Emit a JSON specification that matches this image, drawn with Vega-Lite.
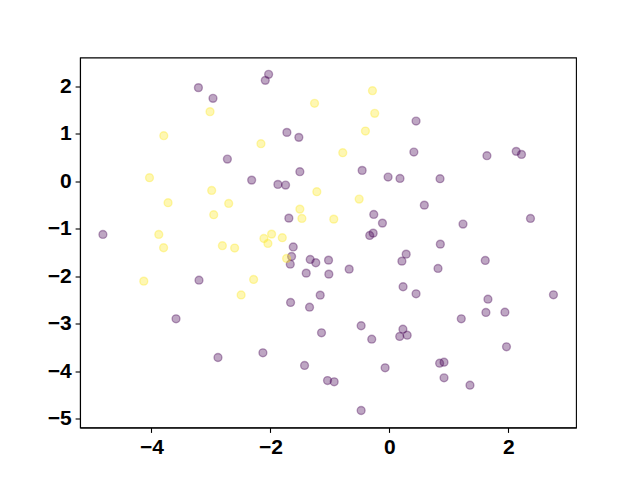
{
  "$schema": "https://vega.github.io/schema/vega-lite/v6.json",
  "width": 496,
  "height": 370,
  "autosize": {"type": "none"},
  "padding": {"left": 80, "top": 57.5, "right": 64, "bottom": 52.5},
  "background": "white",
  "config": {
    "view": {"stroke": "black", "strokeWidth": 1.1},
    "axis": {
      "labelFont": "Liberation Sans",
      "labelFontWeight": "bold",
      "labelFontSize": 21,
      "labelColor": "black",
      "tickColor": "black",
      "tickSize": 4.9,
      "tickWidth": 1.1,
      "domainColor": "black",
      "domainWidth": 1.1,
      "grid": false,
      "title": null,
      "labelPadding": 4
    }
  },
  "data": {
    "values": [
      {"x": -3.21, "y": 1.976, "c": 0},
      {"x": -2.965, "y": 1.75, "c": 0},
      {"x": -2.723, "y": 0.47, "c": 0},
      {"x": -2.315, "y": 0.027, "c": 0},
      {"x": -4.815, "y": -1.117, "c": 0},
      {"x": -3.2, "y": -2.081, "c": 0},
      {"x": -3.586, "y": -2.895, "c": 0},
      {"x": -2.881, "y": -3.711, "c": 0},
      {"x": -2.03, "y": 2.256, "c": 0},
      {"x": -2.086, "y": 2.129, "c": 0},
      {"x": -1.723, "y": 1.033, "c": 0},
      {"x": -1.522, "y": 0.928, "c": 0},
      {"x": 0.411, "y": 0.618, "c": 0},
      {"x": -1.505, "y": 0.205, "c": 0},
      {"x": -0.458, "y": 0.232, "c": 0},
      {"x": -1.874, "y": -0.063, "c": 0},
      {"x": -1.745, "y": -0.078, "c": 0},
      {"x": -0.022, "y": 0.091, "c": 0},
      {"x": 0.178, "y": 0.063, "c": 0},
      {"x": -1.69, "y": -0.774, "c": 0},
      {"x": -0.263, "y": -0.696, "c": 0},
      {"x": -0.117, "y": -0.879, "c": 0},
      {"x": -0.273, "y": -1.09, "c": 0},
      {"x": -0.331, "y": -1.139, "c": 0},
      {"x": -1.616, "y": -1.381, "c": 0},
      {"x": 0.448, "y": 1.271, "c": 0},
      {"x": 1.639, "y": 0.542, "c": 0},
      {"x": 2.131, "y": 0.633, "c": 0},
      {"x": 2.22, "y": 0.569, "c": 0},
      {"x": 0.851, "y": 0.057, "c": 0},
      {"x": 0.587, "y": -0.5, "c": 0},
      {"x": 1.237, "y": -0.9, "c": 0},
      {"x": 2.371, "y": -0.78, "c": 0},
      {"x": 0.856, "y": -1.322, "c": 0},
      {"x": -1.644, "y": -1.581, "c": 0},
      {"x": -1.666, "y": -1.744, "c": 0},
      {"x": -1.331, "y": -1.645, "c": 0},
      {"x": -1.237, "y": -1.714, "c": 0},
      {"x": -1.023, "y": -1.659, "c": 0},
      {"x": -1.398, "y": -1.933, "c": 0},
      {"x": -1.018, "y": -1.954, "c": 0},
      {"x": -0.676, "y": -1.849, "c": 0},
      {"x": 0.282, "y": -1.533, "c": 0},
      {"x": 0.21, "y": -1.68, "c": 0},
      {"x": -1.661, "y": -2.551, "c": 0},
      {"x": -1.342, "y": -2.65, "c": 0},
      {"x": -1.163, "y": -2.397, "c": 0},
      {"x": 0.23, "y": -2.22, "c": 0},
      {"x": -0.475, "y": -3.042, "c": 0},
      {"x": -0.297, "y": -3.325, "c": 0},
      {"x": -1.141, "y": -3.19, "c": 0},
      {"x": 0.227, "y": -3.114, "c": 0},
      {"x": 0.173, "y": -3.268, "c": 0},
      {"x": 0.299, "y": -3.241, "c": 0},
      {"x": -2.126, "y": -3.612, "c": 0},
      {"x": -1.426, "y": -3.879, "c": 0},
      {"x": -0.072, "y": -3.928, "c": 0},
      {"x": -1.04, "y": -4.196, "c": 0},
      {"x": -0.928, "y": -4.223, "c": 0},
      {"x": -0.475, "y": -4.828, "c": 0},
      {"x": 1.611, "y": -1.666, "c": 0},
      {"x": 0.817, "y": -1.834, "c": 0},
      {"x": 0.448, "y": -2.368, "c": 0},
      {"x": 1.656, "y": -2.482, "c": 0},
      {"x": 2.757, "y": -2.389, "c": 0},
      {"x": 1.622, "y": -2.762, "c": 0},
      {"x": 1.941, "y": -2.756, "c": 0},
      {"x": 1.208, "y": -2.895, "c": 0},
      {"x": 1.968, "y": -3.485, "c": 0},
      {"x": 0.844, "y": -3.831, "c": 0},
      {"x": 0.918, "y": -3.81, "c": 0},
      {"x": 0.918, "y": -4.139, "c": 0},
      {"x": 1.354, "y": -4.295, "c": 0},
      {"x": -3.015, "y": 1.47, "c": 1},
      {"x": -3.792, "y": 0.964, "c": 1},
      {"x": -4.032, "y": 0.078, "c": 1},
      {"x": -2.987, "y": -0.19, "c": 1},
      {"x": -3.72, "y": -0.449, "c": 1},
      {"x": -2.701, "y": -0.464, "c": 1},
      {"x": -2.953, "y": -0.702, "c": 1},
      {"x": -3.876, "y": -1.117, "c": 1},
      {"x": -3.795, "y": -1.398, "c": 1},
      {"x": -2.807, "y": -1.354, "c": 1},
      {"x": -2.601, "y": -1.404, "c": 1},
      {"x": -4.128, "y": -2.102, "c": 1},
      {"x": -2.282, "y": -2.066, "c": 1},
      {"x": -2.492, "y": -2.393, "c": 1},
      {"x": -0.285, "y": 1.912, "c": 1},
      {"x": -1.258, "y": 1.645, "c": 1},
      {"x": -0.247, "y": 1.434, "c": 1},
      {"x": -0.403, "y": 1.061, "c": 1},
      {"x": -2.159, "y": 0.795, "c": 1},
      {"x": -0.784, "y": 0.605, "c": 1},
      {"x": -1.22, "y": -0.217, "c": 1},
      {"x": -0.508, "y": -0.373, "c": 1},
      {"x": -1.505, "y": -0.584, "c": 1},
      {"x": -1.471, "y": -0.78, "c": 1},
      {"x": -0.935, "y": -0.795, "c": 1},
      {"x": -1.98, "y": -1.111, "c": 1},
      {"x": -2.109, "y": -1.202, "c": 1},
      {"x": -2.042, "y": -1.307, "c": 1},
      {"x": -1.8, "y": -1.187, "c": 1},
      {"x": -1.728, "y": -1.623, "c": 1}
    ]
  },
  "mark": {"type": "point", "shape": "circle", "filled": false, "size": 62, "strokeWidth": 1.4, "fillOpacity": 0.35, "strokeOpacity": 0.35},
  "encoding": {
    "x": {"field": "x", "type": "quantitative", "scale": {"domain": [-5.2, 3.136], "nice": false, "zero": false}, "axis": {"values": [-4, -2, 0, 2]}},
    "y": {"field": "y", "type": "quantitative", "scale": {"domain": [-5.186, 2.611], "nice": false, "zero": false}, "axis": {"values": [-5, -4, -3, -2, -1, 0, 1, 2]}},
    "fill": {"field": "c", "type": "nominal", "scale": {"domain": [0, 1], "range": ["#440154", "#fde725"]}, "legend": null},
    "stroke": {"field": "c", "type": "nominal", "scale": {"domain": [0, 1], "range": ["#440154", "#fde725"]}, "legend": null}
  }
}
